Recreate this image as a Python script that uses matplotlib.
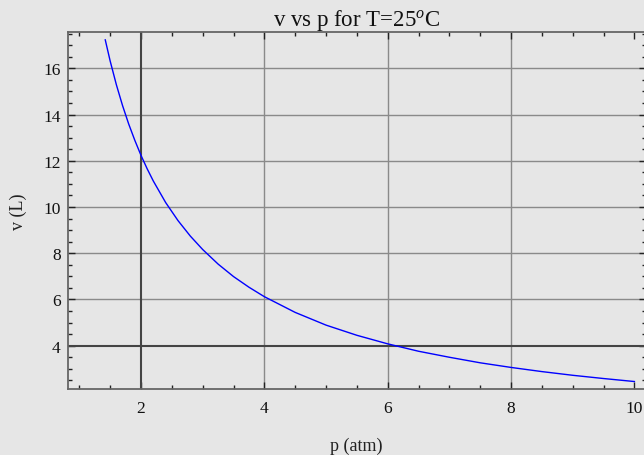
import matplotlib
matplotlib.use("Agg")
import matplotlib.pyplot as plt
from matplotlib.ticker import MultipleLocator

plt.rcParams['font.family'] = ['Liberation Serif', 'DejaVu Serif']
plt.rcParams['mathtext.fontset'] = 'custom'
plt.rcParams['mathtext.rm'] = 'Liberation Serif'
plt.rcParams['mathtext.it'] = 'Liberation Serif:italic'

# curve values
p_atm = [1.42, 1.5, 1.6, 1.7, 1.8, 1.9, 2.0, 2.1, 2.2, 2.4, 2.6, 2.8, 3.0, 3.25, 3.5,
         3.75, 4.0, 4.5, 5.0, 5.5, 6.0, 6.5, 7.0, 7.5, 8.0, 8.5, 9.0, 9.5, 10.0]
v_L = [17.23, 16.31, 15.29, 14.39, 13.59, 12.88, 12.23, 11.65, 11.12, 10.19, 9.41, 8.74,
       8.16, 7.53, 6.99, 6.53, 6.12, 5.44, 4.89, 4.45, 4.08, 3.76, 3.50, 3.26, 3.06,
       2.88, 2.72, 2.58, 2.45]

x_grid = [4, 6, 8]
y_grid = [6, 8, 10, 12, 14, 16]
axis_origin = (2, 4)

W, H = 644, 456
fig = plt.figure(figsize=(W / 100, H / 100), dpi=100)
bg = '#e6e6e6'
fig.patch.set_facecolor(bg)
left, right, top, bottom = 67.7, 645.5, 33.0, 389.7
ax = fig.add_axes([left / W, 1 - bottom / H, (right - left) / W, (bottom - top) / H])
ax.set_facecolor(bg)

ax.set_xlim(0.811, 10.18)
ax.set_ylim(2.14, 17.57)

for gx in x_grid:
    ax.axvline(gx, color='#8a8a8a', lw=1.0, zorder=1)
for gy in y_grid:
    ax.axhline(gy, color='#8a8a8a', lw=1.0, zorder=1)
ax.axvline(axis_origin[0], color='#444444', lw=1.5, zorder=2)
ax.axhline(axis_origin[1], color='#444444', lw=1.5, zorder=2)

ax.plot(p_atm, v_L, color='#0000ff', lw=1.0, zorder=3)

ax.xaxis.set_major_locator(MultipleLocator(2))
ax.xaxis.set_minor_locator(MultipleLocator(0.5))
ax.yaxis.set_major_locator(MultipleLocator(2))
ax.yaxis.set_minor_locator(MultipleLocator(0.5))
ax.tick_params(which='both', direction='in', top=True, right=True, color='#222222',
               labelsize=12.5, labelcolor='#111111', pad=5)
ax.tick_params(axis='x', which='both', pad=8)
ax.tick_params(which='major', length=5, width=1.0)
ax.tick_params(which='minor', length=3, width=1.0)
for s in ax.spines.values():
    s.set_color('#666666')
    s.set_linewidth(1.3)

ax.set_title(r'v vs p for T=25$^{\mathit{o}}$C', fontsize=16.5, pad=2, color='#111111')
ax.set_xlabel('p (atm)', fontsize=13, labelpad=15, color='#222222')
ax.set_ylabel('v (L)', fontsize=13, labelpad=12, color='#222222')

fig.savefig('out.png', dpi=100, facecolor=bg)
